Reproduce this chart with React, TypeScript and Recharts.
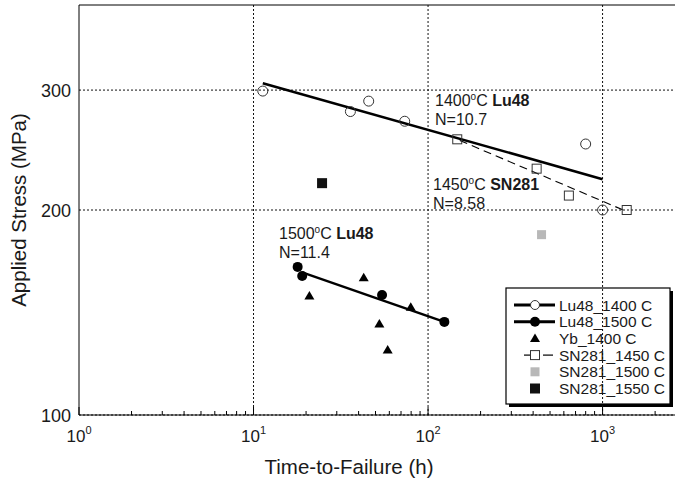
import React from "react";
import { ScatterChart, Scatter, XAxis, YAxis, ReferenceLine } from "recharts";

// t = time-to-failure (h), s = applied stress (MPa)
const lu48_1400 = [
  { t: 11.3, s: 299 },
  { t: 35.9, s: 279 },
  { t: 45.7, s: 289 },
  { t: 73.5, s: 270 },
  { t: 800, s: 250 },
  { t: 1000, s: 200 },
];
const lu48_1400Fit = [
  { t: 11.3, s: 307 },
  { t: 1000, s: 222 },
];
const lu48_1500 = [
  { t: 17.9, s: 165 },
  { t: 19.0, s: 160 },
  { t: 54.5, s: 150 },
  { t: 124, s: 137 },
];
const lu48_1500Fit = [
  { t: 19, s: 162 },
  { t: 124, s: 137 },
];
const yb_1400 = [
  { t: 20.9, s: 149.5 },
  { t: 42.8, s: 159 },
  { t: 52.6, s: 136 },
  { t: 58.7, s: 124.6 },
  { t: 79.6, s: 144 },
];
const sn281_1450 = [
  { t: 147, s: 254 },
  { t: 419, s: 230 },
  { t: 641, s: 210 },
  { t: 1375, s: 200 },
];
const sn281_1450Fit = [
  { t: 152, s: 253 },
  { t: 1375, s: 199 },
];
const sn281_1500 = [{ t: 447, s: 184 }];
const sn281_1550 = [{ t: 24.7, s: 219 }];

const xTicks = [1, 2, 3, 4, 5, 6, 7, 8, 9, 10, 20, 30, 40, 50, 60, 70, 80, 90, 100, 200, 300, 400, 500, 600, 700, 800, 900, 1000, 2000];
const xGrid = [10, 100, 1000];
const yTicks = [100, 200, 300];
const yGrid = [200, 300];

const legendNames = ["Lu48_1400 C", "Lu48_1500 C", "Yb_1400 C", "SN281_1450 C", "SN281_1500 C", "SN281_1550 C"];

const FONT = "'Liberation Sans', Arial, Helvetica, sans-serif";
const INK = "#1a1a1a";

const OpenCircle = (p: any) => <circle cx={p.cx} cy={p.cy} r={5} fill="none" stroke="#333" strokeWidth={1} />;
const FilledCircle = (p: any) => <circle cx={p.cx} cy={p.cy} r={5} fill="#000" />;
const Triangle = (p: any) => (
  <polygon points={`${p.cx},${p.cy - 5} ${p.cx + 5},${p.cy + 3.5} ${p.cx - 5},${p.cy + 3.5}`} fill="#000" />
);
const OpenSquare = (p: any) => (
  <rect x={p.cx - 4.5} y={p.cy - 4.5} width={9} height={9} fill="none" stroke="#333" strokeWidth={1} />
);
const GraySquare = (p: any) => <rect x={p.cx - 4.5} y={p.cy - 4.5} width={9} height={9} fill="#b8b8b8" />;
const BlackSquare = (p: any) => <rect x={p.cx - 5} y={p.cy - 5} width={10} height={10} fill="#111" />;
const NoDot = () => <g />;

const XTick = (props: any) => {
  const { x, y, payload } = props;
  const lg = Math.log10(payload.value);
  const exp = Math.round(lg);
  if (Math.abs(lg - exp) > 1e-6) {
    return <line x1={x} x2={x} y1={y} y2={y - 4} stroke="#000" />;
  }
  return (
    <g>
      <line x1={x} x2={x} y1={y} y2={y - 8} stroke="#000" />
      <text x={x} y={y + 27} textAnchor="middle" fontSize={17} fill={INK} fontFamily={FONT}>
        10
        <tspan dy={-8} fontSize={11}>
          {exp}
        </tspan>
      </text>
    </g>
  );
};

const YTick = (props: any) => {
  const { x, y, payload } = props;
  return (
    <text x={x} y={y + 6.5} textAnchor="end" fontSize={18} fill={INK} fontFamily={FONT}>
      {payload.value}
    </text>
  );
};

const Note = ({ x, y, temp, name, n }: any) => (
  <g fontFamily={FONT} fontSize={16} fill={INK}>
    <text x={x} y={y}>
      {temp}
      <tspan dy={-6} fontSize={10}>
        o
      </tspan>
      <tspan dy={6}>C </tspan>
      <tspan fontWeight="bold">{name}</tspan>
    </text>
    <text x={x} y={y + 19}>
      {n}
    </text>
  </g>
);

const LegendBox = () => {
  const left = 506;
  const top = 288;
  const rowY = (i: number) => 305 + i * 16.7;
  const mx = 535;
  return (
    <g fontFamily={FONT}>
      <rect x={left + 3} y={top + 3} width={164} height={116} fill="#000" />
      <rect x={left} y={top} width={164} height={116} fill="#fff" stroke="#000" strokeWidth={1.2} />
      <line x1={514} x2={555} y1={rowY(0)} y2={rowY(0)} stroke="#000" strokeWidth={3} />
      <circle cx={mx} cy={rowY(0)} r={4.5} fill="#fff" stroke="#333" />
      <line x1={514} x2={555} y1={rowY(1)} y2={rowY(1)} stroke="#000" strokeWidth={3} />
      <circle cx={mx} cy={rowY(1)} r={5} fill="#000" />
      <Triangle cx={mx} cy={rowY(2)} />
      <line x1={524} x2={531} y1={rowY(3)} y2={rowY(3)} stroke="#000" strokeWidth={1.2} />
      <line x1={543} x2={553} y1={rowY(3)} y2={rowY(3)} stroke="#000" strokeWidth={1.2} />
      <OpenSquare cx={mx} cy={rowY(3)} />
      <GraySquare cx={mx} cy={rowY(4)} />
      <BlackSquare cx={mx} cy={rowY(5)} />
      {legendNames.map((name, i) => (
        <text key={name} x={559} y={rowY(i) + 5.5} fontSize={15.5} fill={INK}>
          {name}
        </text>
      ))}
    </g>
  );
};

export default function App() {
  return (
    <div style={{ position: "absolute", left: 0, top: 0, width: 675, height: 480, background: "#fff" }}>
      <ScatterChart width={675} height={480} margin={{ top: 5, right: 0, bottom: 0, left: 0 }} style={{ fontFamily: FONT }}>
        <XAxis
          dataKey="t"
          type="number"
          scale="log"
          domain={[1, 2600]}
          allowDataOverflow
          ticks={xTicks}
          interval={0}
          tick={<XTick />}
          tickLine={false}
          tickSize={0}
          tickMargin={0}
          height={65}
          axisLine={{ stroke: "#000" }}
        />
        <YAxis
          dataKey="s"
          type="number"
          scale="log"
          domain={[100, 400]}
          allowDataOverflow
          ticks={yTicks}
          interval={0}
          tick={<YTick />}
          tickLine={false}
          tickSize={0}
          tickMargin={8}
          width={79}
          axisLine={{ stroke: "#000" }}
        />
        {xGrid.map((v) => (
          <ReferenceLine key={"x" + v} x={v} stroke="#111" strokeDasharray="2 2" />
        ))}
        {yGrid.map((v) => (
          <ReferenceLine key={"y" + v} y={v} stroke="#111" strokeDasharray="2 2" />
        ))}
        <ReferenceLine y={100} stroke="#111" strokeDasharray="2 2" />
        <ReferenceLine y={400} stroke="#000" />

        <Scatter data={lu48_1400Fit} line={{ stroke: "#000", strokeWidth: 2.6 }} shape={<NoDot />} isAnimationActive={false} />
        <Scatter data={lu48_1500Fit} line={{ stroke: "#000", strokeWidth: 2.4 }} shape={<NoDot />} isAnimationActive={false} />
        <Scatter
          data={sn281_1450Fit}
          line={{ stroke: "#000", strokeWidth: 1.1, strokeDasharray: "8 5" }}
          shape={<NoDot />}
          isAnimationActive={false}
        />
        <Scatter name="Lu48_1400 C" data={lu48_1400} shape={<OpenCircle />} isAnimationActive={false} />
        <Scatter name="Lu48_1500 C" data={lu48_1500} shape={<FilledCircle />} isAnimationActive={false} />
        <Scatter name="Yb_1400 C" data={yb_1400} shape={<Triangle />} isAnimationActive={false} />
        <Scatter name="SN281_1450 C" data={sn281_1450} shape={<OpenSquare />} isAnimationActive={false} />
        <Scatter name="SN281_1500 C" data={sn281_1500} shape={<GraySquare />} isAnimationActive={false} />
        <Scatter name="SN281_1550 C" data={sn281_1550} shape={<BlackSquare />} isAnimationActive={false} />

        <Note x={435} y={106} temp="1400" name="Lu48" n="N=10.7" />
        <Note x={433} y={190} temp="1450" name="SN281" n="N=8.58" />
        <Note x={279} y={239} temp="1500" name="Lu48" n="N=11.4" />
        <LegendBox />

        <text x={349} y={474} textAnchor="middle" fontSize={20.5} fill={INK} fontFamily={FONT}>
          Time-to-Failure (h)
        </text>
        <text
          transform="translate(26, 210) rotate(-90)"
          textAnchor="middle"
          fontSize={20.5}
          fill={INK}
          fontFamily={FONT}
        >
          Applied Stress (MPa)
        </text>
      </ScatterChart>
    </div>
  );
}
